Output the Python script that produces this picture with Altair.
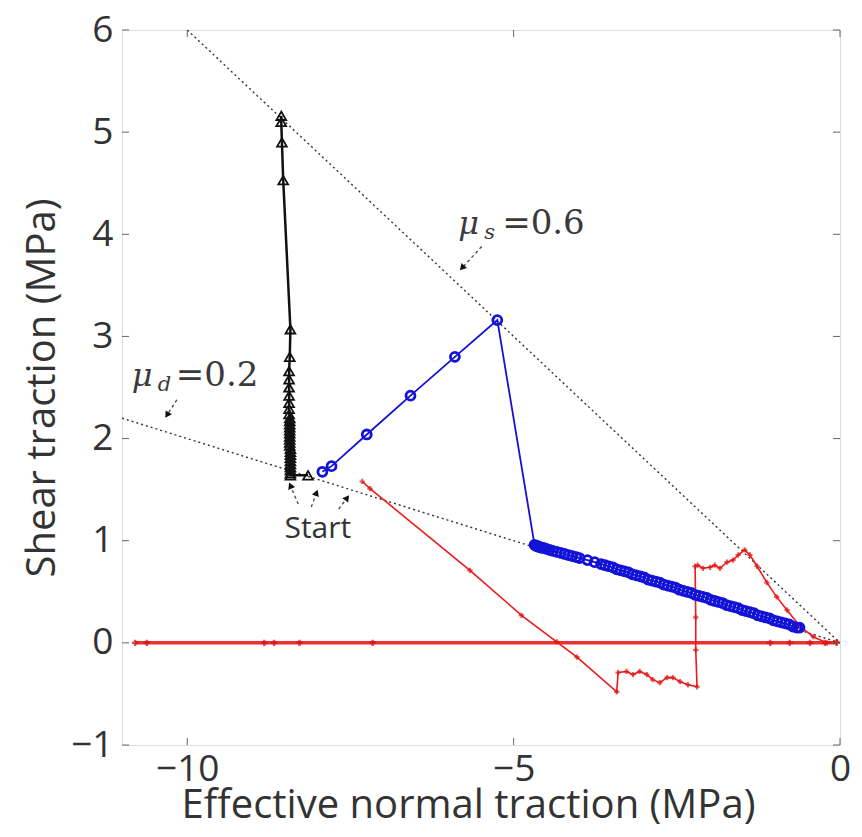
import math
import altair as alt
import pandas as pd

# ---------------- data ----------------
black_x = [-8.15, -8.42, -8.42, -8.42, -8.42, -8.42, -8.42, -8.42, -8.42, -8.42, -8.42,
           -8.43, -8.43, -8.43, -8.43, -8.43, -8.43, -8.43, -8.43, -8.43, -8.43,
           -8.44, -8.44, -8.44, -8.44, -8.44, -8.44, -8.44, -8.43, -8.42, -8.53, -8.55, -8.56, -8.56]
black_y = [1.64, 1.64, 1.66, 1.69, 1.72, 1.75, 1.78, 1.81, 1.84, 1.87, 1.90,
           1.93, 1.96, 1.99, 2.02, 2.05, 2.08, 2.11, 2.14, 2.17, 2.20,
           2.24, 2.29, 2.35, 2.42, 2.50, 2.58, 2.66, 2.80, 3.07, 4.53, 4.90, 5.10, 5.16]

blue_x = [-7.93, -7.79, -7.25, -6.58, -5.90, -5.25,
          -4.68, -4.66, -4.64, -4.62, -4.60, -4.57, -4.54, -4.50, -4.45, -4.40,
          -4.34, -4.28, -4.22, -4.16, -4.10, -4.04, -3.99, -3.87, -3.76, -3.66,
          -3.60, -3.54, -3.48, -3.42, -3.36, -3.30, -3.24, -3.18, -3.12, -3.06,
          -3.00, -2.94, -2.88, -2.82, -2.76, -2.70, -2.64, -2.58, -2.52, -2.46,
          -2.40, -2.34, -2.28, -2.22, -2.16, -2.10, -2.04, -1.98, -1.92, -1.86,
          -1.80, -1.74, -1.68, -1.62, -1.56, -1.50, -1.44, -1.38, -1.32, -1.26,
          -1.20, -1.14, -1.08, -1.02, -0.96, -0.90, -0.84, -0.78, -0.72, -0.66, -0.62]
blue_y = [1.675, 1.73, 2.04, 2.42, 2.80, 3.16,
          0.96, 0.95, 0.95, 0.94, 0.94, 0.93, 0.93, 0.92, 0.91, 0.90,
          0.89, 0.88, 0.87, 0.86, 0.85, 0.84, 0.83, 0.81, 0.79, 0.77,
          0.76, 0.75, 0.74, 0.72, 0.71, 0.70, 0.69, 0.67, 0.66, 0.65,
          0.64, 0.62, 0.61, 0.60, 0.59, 0.57, 0.56, 0.55, 0.54, 0.52,
          0.51, 0.50, 0.49, 0.47, 0.46, 0.45, 0.44, 0.42, 0.41, 0.40,
          0.39, 0.37, 0.36, 0.35, 0.34, 0.32, 0.31, 0.30, 0.29, 0.27,
          0.26, 0.25, 0.24, 0.22, 0.21, 0.20, 0.19, 0.18, 0.16, 0.15, 0.15]

red_x = [-7.32, -7.20, -5.67, -4.88, -4.34, -4.03, -3.42,
         -3.40, -3.27, -3.17, -3.07, -2.96, -2.87, -2.76, -2.65, -2.56, -2.45, -2.33, -2.19,
         -2.21, -2.21, -2.22, -2.18, -2.10, -1.99, -1.92, -1.84, -1.73, -1.64, -1.56, -1.46,
         -1.38, -1.27, -1.12, -0.97, -0.81, -0.61, -0.41, -0.20, -0.05]
red_y = [1.58, 1.51, 0.71, 0.27, 0.01, -0.14, -0.48,
         -0.29, -0.28, -0.31, -0.28, -0.31, -0.36, -0.39, -0.34, -0.34, -0.38, -0.41, -0.43,
         -0.07, 0.25, 0.75, 0.76, 0.73, 0.74, 0.76, 0.73, 0.79, 0.81, 0.86, 0.91,
         0.86, 0.75, 0.59, 0.45, 0.32, 0.16, 0.06, 0.00, 0.01]

red0_x = [-0.05, -0.23, -0.46, -0.77, -1.07, -7.16, -8.28, -8.67, -8.82, -10.62, -10.80]
red0_y = [0.0, 0.0, 0.0, 0.0, 0.0, 0.0, 0.0, 0.0, 0.0, 0.0, 0.0]

mus_x = [-10.0, 0.0]
mus_y = [6.0, 0.0]
mud_x = [-11.0, 0.0]
mud_y = [2.2, 0.0]

x_ticks = [-10, -5, 0]
y_ticks = [-1, 0, 1, 2, 3, 4, 5, 6]

# arrows: tail -> head (data units)
arrow_tx = [-5.49, -10.16, -8.30, -8.10, -7.68]
arrow_ty = [3.88, 2.38, 1.36, 1.33, 1.31]
arrow_hx = [-5.79, -10.31, -8.42, -8.02, -7.55]
arrow_hy = [3.67, 2.23, 1.54, 1.47, 1.42]

# annotation texts
mu_x = [-5.85, -10.85]
mu_y = [4.00, 2.51]
sub_txt = ["s", "d"]
val_txt = ["=0.6", "=0.2"]
start_x = [-8.0]
start_y = [1.11]
start_txt = ["Start"]

# ---------------- chart ----------------
W, H = 718, 715
XD, YD = [-11, 0], [-1, 6]
xs = alt.Scale(domain=XD, nice=False, zero=False)
ys = alt.Scale(domain=YD, nice=False, zero=False)
pxu, pyu = W / 11.0, H / 7.0
TXT = "#333333"
FONT = "Open Sans"

xaxis = alt.Axis(values=x_ticks, format="d", ticks=False, grid=False, domain=False,
                 labelFontSize=37, labelFont=FONT, labelColor=TXT,
                 labelPadding=6, title="Effective normal traction (MPa)",
                 titleFontSize=40, titleFont=FONT, titleFontWeight="normal",
                 titleColor=TXT, titlePadding=-2, titleX=346, labelFlush=False)
yaxis = alt.Axis(values=y_ticks, format="d", ticks=False, grid=False, domain=False,
                 labelFontSize=37, labelFont=FONT, labelColor=TXT,
                 labelPadding=9, title="Shear traction (MPa)",
                 titleFontSize=40, titleFont=FONT, titleFontWeight="normal",
                 titleColor=TXT, titlePadding=8)


def df(xv, yv):
    d = pd.DataFrame({"x": xv, "y": yv})
    d["order"] = range(len(d))
    return d


black = df(black_x, black_y)
blue = df(blue_x, blue_y)
red = df(red_x, red_y)
red0 = df(red0_x, red0_y)
mus = df(mus_x, mus_y)
mud = df(mud_x, mud_y)

X = alt.X("x:Q", scale=xs, axis=xaxis)
Y = alt.Y("y:Q", scale=ys, axis=yaxis)
Xn = alt.X("x:Q", scale=xs)
Yn = alt.Y("y:Q", scale=ys)

mus_line = alt.Chart(mus).mark_line(color="#333", strokeWidth=1.4, strokeDash=[2, 3]).encode(
    x=X, y=Y, order="order:Q")
mud_line = alt.Chart(mud).mark_line(color="#333", strokeWidth=1.4, strokeDash=[2, 3]).encode(
    x=Xn, y=Yn, order="order:Q")

RED = "#ee1a1a"
red_line = alt.Chart(red).mark_line(color=RED, strokeWidth=1.6).encode(x=Xn, y=Yn, order="order:Q")
red_pts = alt.Chart(red).mark_point(shape="cross", filled=True, size=28, color="#dd1111").encode(x=Xn, y=Yn)
red0_line = alt.Chart(red0).mark_line(color="#ef3030", strokeWidth=3.5).encode(x=Xn, y=Yn, order="order:Q")
red0_pts = alt.Chart(red0).mark_point(shape="cross", filled=True, size=40, color="#cc1111").encode(x=Xn, y=Yn)

BLUE = "#1212d8"
blue_line = alt.Chart(blue).mark_line(color=BLUE, strokeWidth=1.8).encode(x=Xn, y=Yn, order="order:Q")
blue_pts = alt.Chart(blue).mark_point(shape="circle", filled=False, size=80, strokeWidth=2.8,
                                      color=BLUE, opacity=1).encode(x=Xn, y=Yn)

black_line = alt.Chart(black).mark_line(color="#111", strokeWidth=2.5).encode(x=Xn, y=Yn, order="order:Q")
black_pts = alt.Chart(black).mark_point(shape="triangle-up", filled=False, size=95, strokeWidth=1.8,
                                        color="#111", opacity=1).encode(x=Xn, y=Yn)

# arrows
arr = pd.DataFrame({"tx": arrow_tx, "ty": arrow_ty, "hx": arrow_hx, "hy": arrow_hy})
arr["angle"] = [
    (math.degrees(math.atan2((hx - tx) * pxu, (hy - ty) * pyu)) + 360) % 360
    for tx, ty, hx, hy in zip(arrow_tx, arrow_ty, arrow_hx, arrow_hy)
]
arr_shaft = alt.Chart(arr).mark_rule(color="#444", strokeWidth=1.3, strokeDash=[3, 3]).encode(
    x=alt.X("tx:Q", scale=xs), y=alt.Y("ty:Q", scale=ys), x2="hx:Q", y2="hy:Q")
arr_head = alt.Chart(arr).mark_point(shape="triangle-up", filled=True, size=55, color="#111",
                                     opacity=1).encode(
    x=alt.X("hx:Q", scale=xs), y=alt.Y("hy:Q", scale=ys), angle=alt.Angle("angle:Q", scale=None))

# text annotations
ann = pd.DataFrame({"x": mu_x, "y": mu_y, "sub": sub_txt, "val": val_txt})
ann["mu"] = "μ"
SERIF = "DejaVu Serif"
mu_t = alt.Chart(ann).mark_text(font=SERIF, fontStyle="italic", fontSize=32,
                                align="left", baseline="alphabetic", color="#3a3a3a").encode(
    x=Xn, y=Yn, text="mu:N")
sub_t = alt.Chart(ann).mark_text(font=SERIF, fontStyle="italic", fontSize=21,
                                 align="left", baseline="alphabetic", color="#3a3a3a", dx=26, dy=5).encode(
    x=Xn, y=Yn, text="sub:N")
val_t = alt.Chart(ann).mark_text(font=SERIF, fontSize=34,
                                 align="left", baseline="alphabetic", color="#3a3a3a", dx=44).encode(
    x=Xn, y=Yn, text="val:N")

start_df = pd.DataFrame({"x": start_x, "y": start_y, "t": start_txt})
start_t = alt.Chart(start_df).mark_text(font=FONT, fontSize=30, align="center",
                                        baseline="middle", color=TXT).encode(
    x=Xn, y=Yn, text="t:N")

# inside ticks (MATLAB style box)
xt = pd.DataFrame({"x": x_ticks})
yt = pd.DataFrame({"y": y_ticks})
TK = "#666"
tb = alt.Chart(xt).mark_rule(color=TK, strokeWidth=1).encode(x=Xn, y=alt.value(H), y2=alt.value(H - 7))
tt = alt.Chart(xt).mark_rule(color=TK, strokeWidth=1).encode(x=Xn, y=alt.value(0), y2=alt.value(7))
tl = alt.Chart(yt).mark_rule(color=TK, strokeWidth=1).encode(y=Yn, x=alt.value(0), x2=alt.value(7))
tr = alt.Chart(yt).mark_rule(color=TK, strokeWidth=1).encode(y=Yn, x=alt.value(W), x2=alt.value(W - 7))

chart = alt.layer(
    mus_line, mud_line,
    red0_line, red0_pts, red_line, red_pts,
    blue_line, blue_pts,
    black_line, black_pts,
    arr_shaft, arr_head,
    mu_t, sub_t, val_t, start_t,
    tb, tt, tl, tr,
).properties(
    width=W, height=H,
    autosize=alt.AutoSizeParams(type="none"),
    padding={"left": 114, "top": 22, "right": 14, "bottom": 88},
).configure_view(stroke="#777", strokeWidth=1.5).configure(background="white")

chart.save("out.html", embed_options={"renderer": "svg", "actions": False})
